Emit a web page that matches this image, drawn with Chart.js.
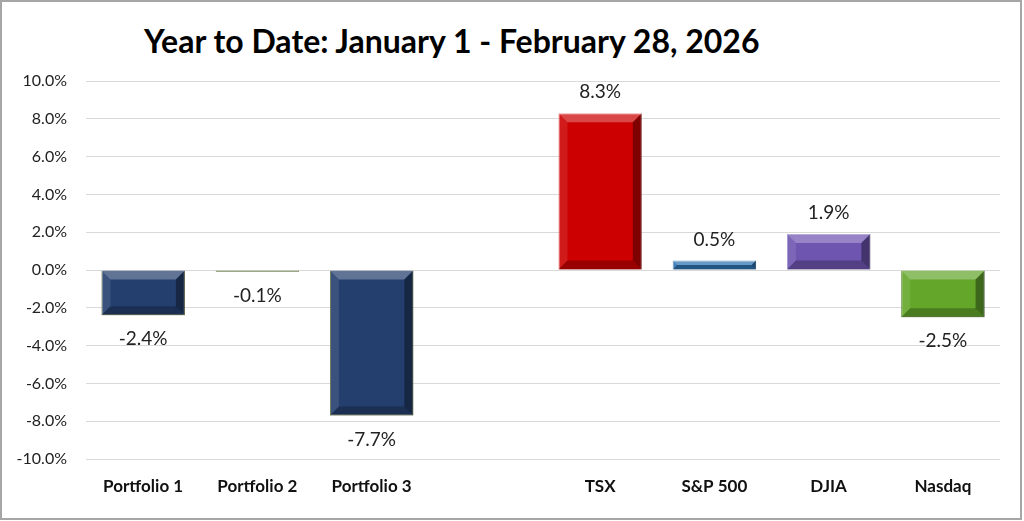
<!DOCTYPE html>
<html lang="en">
  <head>
    <meta charset="UTF-8" />
    <title>Year to Date</title>
    <style>
      body {
        margin: 0;
        background: #fff;
        overflow: hidden;
      }
      .frame {
        position: relative;
        width: 1022px;
        height: 520px;
        border: 2px solid #a6a6a6;
        box-sizing: border-box;
      }
      .frame h1 {
        position: absolute;
        left: 142px;
        top: 19px;
        margin: 0;
        font-family: Lato, "Open Sans", sans-serif;
        font-weight: bold;
        font-size: 32px;
        color: #000;
        white-space: nowrap;
      }
      canvas {
        position: absolute;
        left: -2px;
        top: -2px;
      }
    </style>
  </head>
  <body>
    <div class="frame">
      <h1>Year to Date: January 1 - February 28, 2026</h1>
      <canvas id="ytdChart" width="1024" height="521"></canvas>
    </div>

    <script src="https://cdn.jsdelivr.net/npm/chart.js"></script>
    <script>
      const categories = ["Portfolio 1", "Portfolio 2", "Portfolio 3", "", "TSX", "S&P 500", "DJIA", "Nasdaq"];
      const returns = [-2.4, -0.1, -7.7, null, 8.3, 0.5, 1.9, -2.5];
      const barColors = ["#243f6e", "#7f8f66", "#243f6e", "#ffffff", "#cc0000", "#2e72b0", "#6e55b0", "#63a62a"];
      const edgeColors = ["#5a6b3a", "#8a9a70", "#5a6b3a", "#ffffff", "#e88080", "#5b8fc0", "#9b88cc", "#4f7f22"];
      const yTicks = [-10, -8, -6, -4, -2, 0, 2, 4, 6, 8, 10];

      // bevelled look on each bar
      const bevelPlugin = {
        id: "bevel",
        afterDatasetsDraw(chart) {
          const ctx = chart.ctx;
          chart.getDatasetMeta(0).data.forEach((bar, i) => {
            if (returns[i] === null) return;
            const p = bar.getProps(["x", "y", "base", "width"], true);
            const l = p.x - p.width / 2;
            const r = p.x + p.width / 2;
            const t = Math.min(p.y, p.base);
            const b = Math.max(p.y, p.base);
            const s = Math.min(9, (b - t) / 2);
            if (s < 1.5) return;
            const poly = (pts, color) => {
              ctx.beginPath();
              ctx.moveTo(pts[0][0], pts[0][1]);
              pts.slice(1).forEach((q) => ctx.lineTo(q[0], q[1]));
              ctx.closePath();
              ctx.fillStyle = color;
              ctx.fill();
            };
            ctx.save();
            poly([[l, t], [r, t], [r - s, t + s], [l + s, t + s]], "rgba(255,255,255,0.28)");
            poly([[l, t], [l + s, t + s], [l + s, b - s], [l, b]], "rgba(255,255,255,0.10)");
            poly([[r, t], [r, b], [r - s, b - s], [r - s, t + s]], "rgba(0,0,0,0.38)");
            poly([[l, b], [l + s, b - s], [r - s, b - s], [r, b]], "rgba(0,0,0,0.25)");
            ctx.restore();
          });
        },
      };

      // value labels above / below bars
      const valueLabels = {
        id: "valueLabels",
        afterDatasetsDraw(chart) {
          const ctx = chart.ctx;
          ctx.save();
          ctx.font = "19px Lato, 'Open Sans', sans-serif";
          ctx.fillStyle = "#222";
          ctx.textAlign = "center";
          ctx.textBaseline = "middle";
          chart.getDatasetMeta(0).data.forEach((bar, i) => {
            const v = returns[i];
            if (v === null) return;
            const y = v >= 0 ? bar.y - 21 : bar.y + 24;
            ctx.fillText(v.toFixed(1) + "%", bar.x, y);
          });
          ctx.restore();
        },
      };

      new Chart(document.getElementById("ytdChart"), {
        type: "bar",
        data: {
          labels: categories,
          datasets: [
            {
              data: returns,
              backgroundColor: barColors,
              borderColor: edgeColors,
              borderWidth: 1,
              barPercentage: 0.73,
              categoryPercentage: 1,
            },
          ],
        },
        options: {
          responsive: false,
          animation: false,
          layout: { padding: { top: 81, right: 24, bottom: 12, left: 0 } },
          plugins: {
            legend: { display: false },
            tooltip: { enabled: false },
          },
          scales: {
            x: {
              grid: { display: false },
              border: { display: false },
              ticks: {
                padding: 9,
                color: "#111",
                font: { family: "Lato, 'Open Sans', sans-serif", size: 17, weight: "bold" },
              },
              afterFit(scale) {
                scale.height = 50;
              },
            },
            y: {
              min: -10,
              max: 10,
              afterBuildTicks(scale) {
                scale.ticks = yTicks.map((v) => ({ value: v }));
              },
              grid: { color: "#d9d9d9", lineWidth: 1, drawTicks: false },
              border: { display: false },
              ticks: {
                padding: 19,
                color: "#222",
                font: { family: "Lato, 'Open Sans', sans-serif", size: 16 },
                callback: (v) => v.toFixed(1) + "%",
              },
              afterFit(scale) {
                scale.width = 86;
              },
            },
          },
        },
        plugins: [bevelPlugin, valueLabels],
      });
    </script>
  </body>
</html>
